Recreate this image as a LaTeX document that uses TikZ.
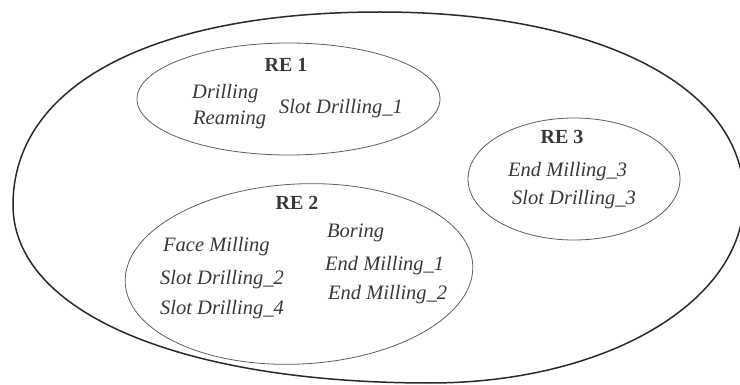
\documentclass[tikz,border=0pt]{standalone}
\usepackage{fontspec}
\setmainfont{Liberation Serif}
\usetikzlibrary{shapes.geometric}
\definecolor{ink}{HTML}{383838}
\definecolor{outline}{HTML}{2A2A2A}
\definecolor{innerline}{HTML}{5E5E5E}
\begin{document}
\begin{tikzpicture}[x=1pt,y=-1pt,
  op/.style={font=\fontsize{20.5}{23}\selectfont\itshape, text=ink, anchor=base west, inner sep=0pt},
  lbl/.style={font=\fontsize{20}{23}\selectfont\bfseries, text=ink, anchor=base, inner sep=0pt},
  region/.style={ellipse, draw=innerline, line width=0.8pt, inner sep=0pt}]
\useasboundingbox (0,0) rectangle (740,385);
% outer region
\coordinate (L) at (13,205);
\coordinate (T) at (380,12);
\coordinate (R) at (744,198);
\coordinate (B) at (430,383);
\draw[outline, line width=1.5pt]
  (L) .. controls (13,85) and (152,12) .. (T)
      .. controls (598,12) and (744,86) .. (R)
      .. controls (744,302) and (606,383) .. (B)
      .. controls (180,383) and (13,312) .. (L) -- cycle;
% inner regions
\node[region, minimum width=303pt, minimum height=112pt] (re1) at (288.5,99) {};
\node[region, minimum width=348pt, minimum height=180pt, rotate=3] (re2) at (299,274) {};
\node[region, minimum width=212pt, minimum height=122pt] (re3) at (574,179) {};
% RE 1
\node[lbl] (t1) at (286,72) {RE 1};
\node[op] (a1) at (192,99) {Drilling};
\node[op] (a2) at (193,125) {Reaming};
\node[op] (a3) at (279,114) {Slot Drilling\_1};
% RE 2
\node[lbl] (t2) at (297,210) {RE 2};
\node[op] (b1) at (327,238) {Boring};
\node[op] (b2) at (163,252) {Face Milling};
\node[op] (b3) at (325,270) {End Milling\_1};
\node[op] (b4) at (160,284) {Slot Drilling\_2};
\node[op] (b5) at (328,300) {End Milling\_2};
\node[op] (b6) at (160,315) {Slot Drilling\_4};
% RE 3
\node[lbl] (t3) at (562,144) {RE 3};
\node[op] (c1) at (508,177) {End Milling\_3};
\node[op] (c2) at (512,205) {Slot Drilling\_3};
\end{tikzpicture}
\end{document}
